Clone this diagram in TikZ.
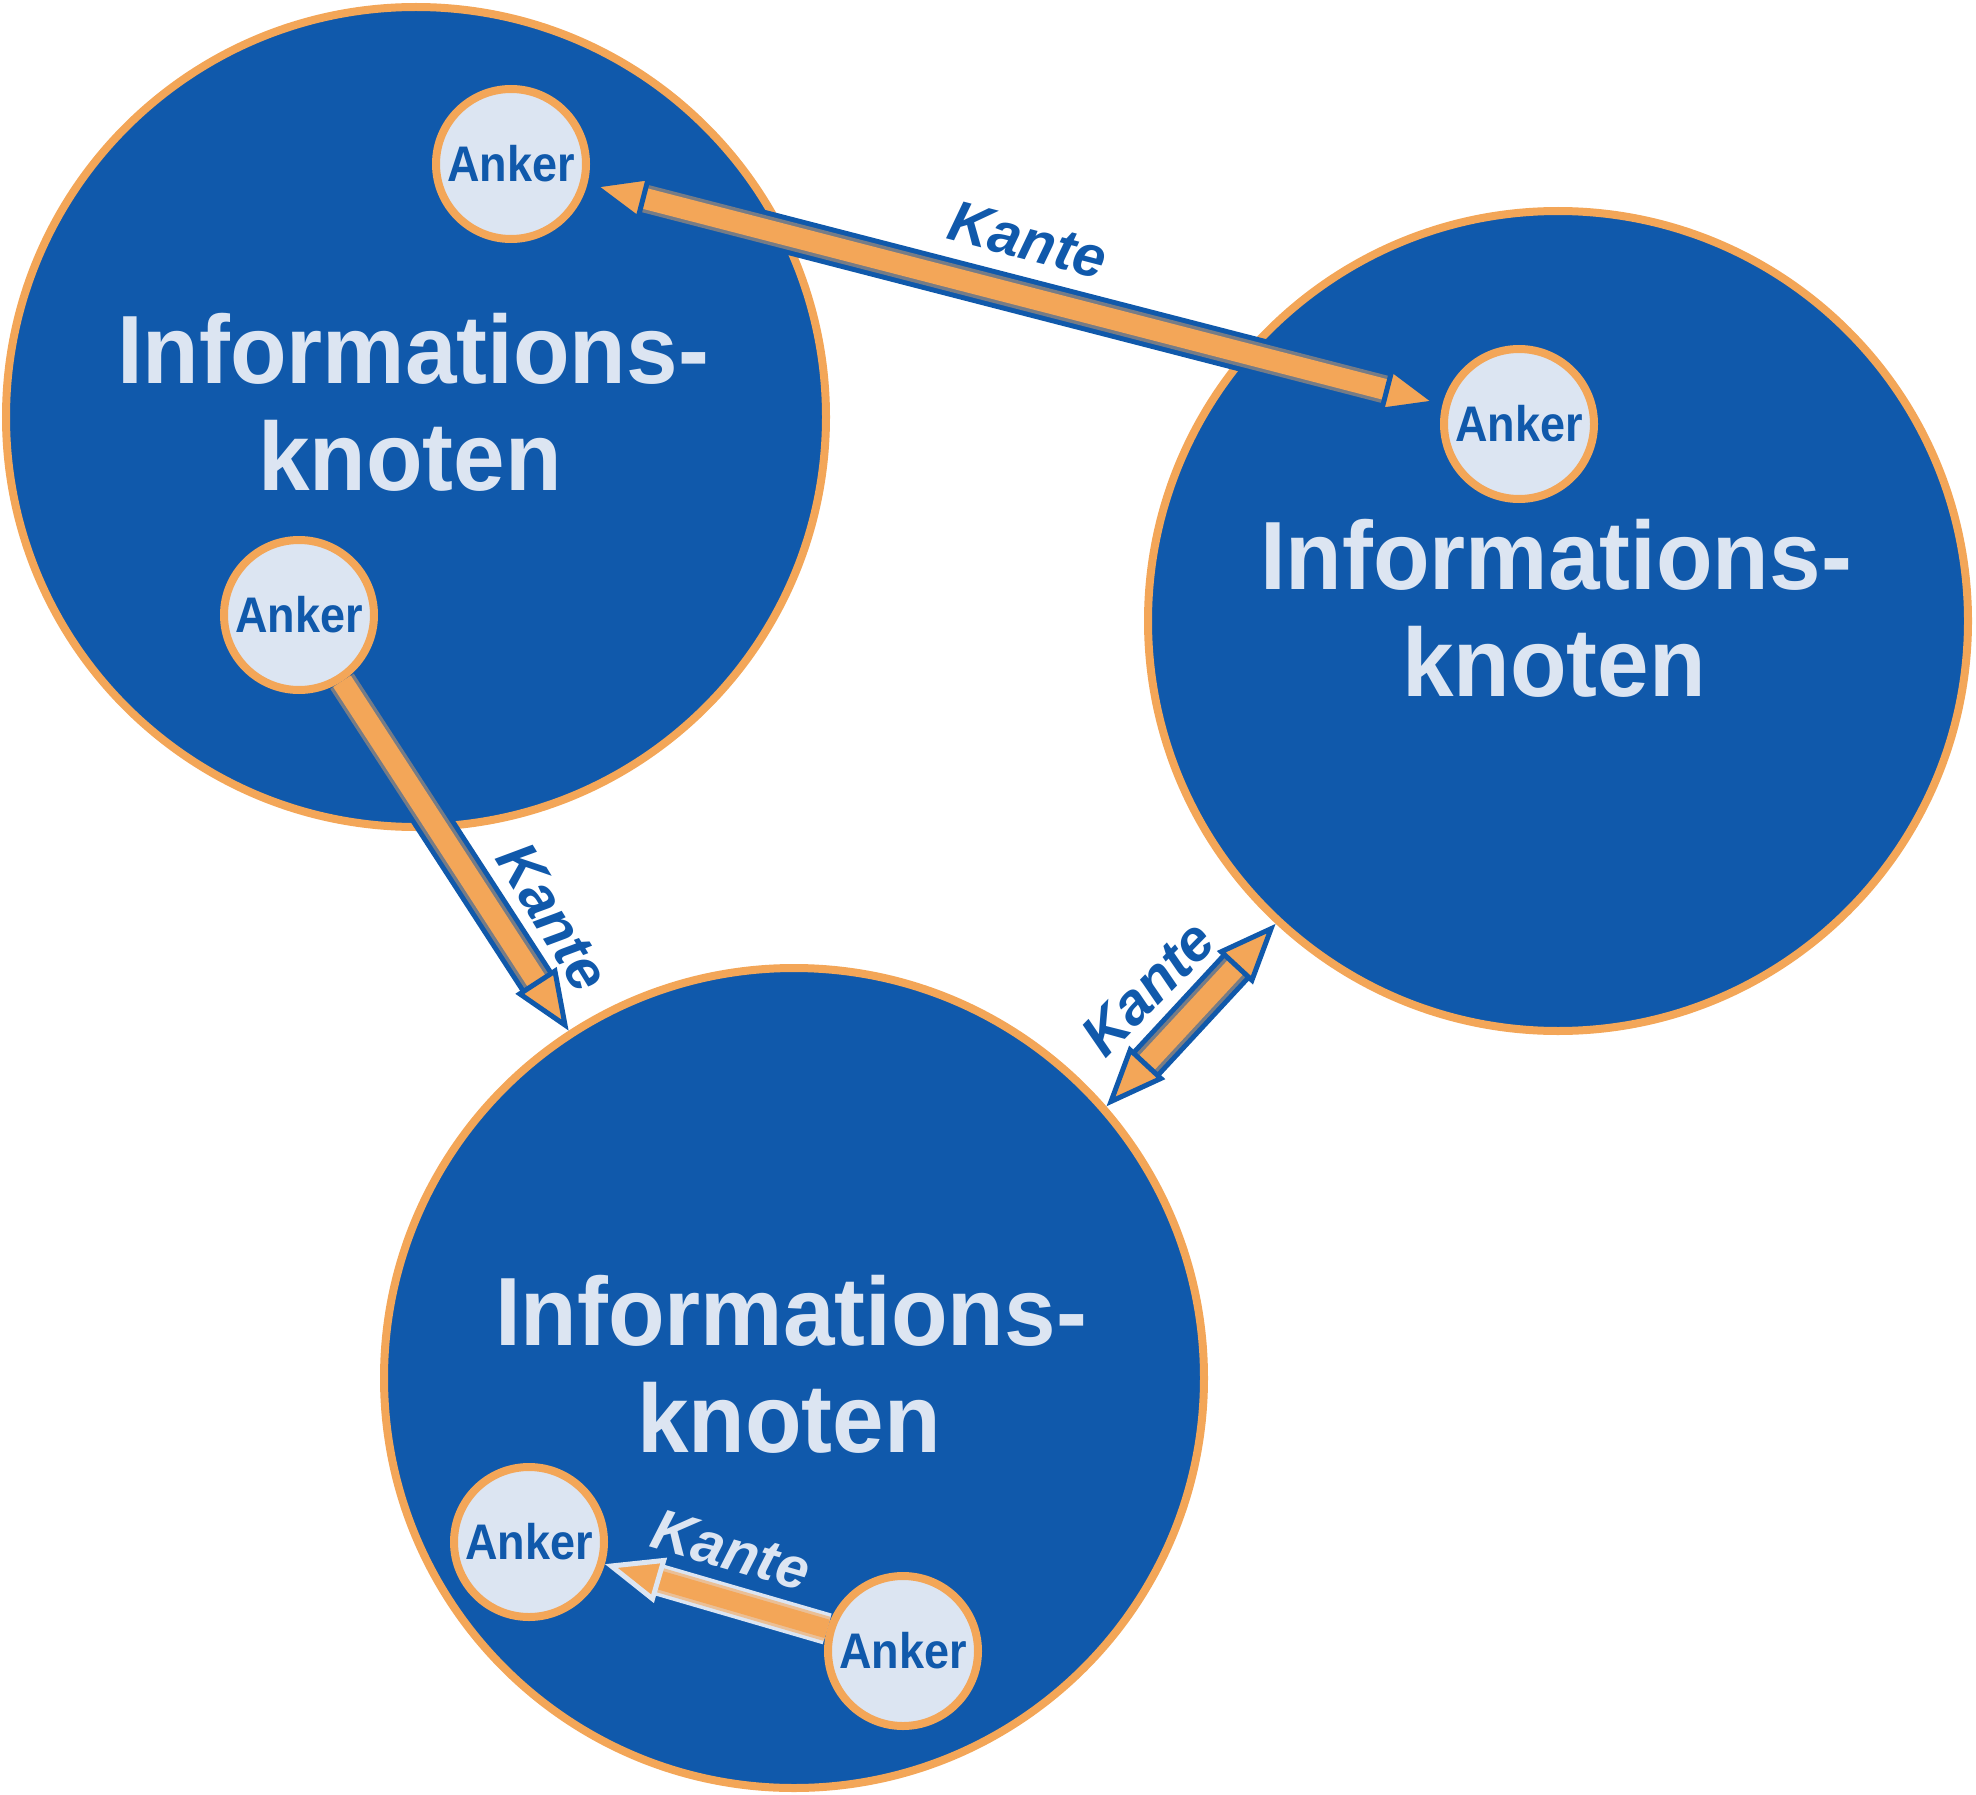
\documentclass[tikz,border=0pt]{standalone}
\usepackage{fontspec}
\usetikzlibrary{arrows.meta}
\newfontfamily\bigf{Liberation Sans}[FakeStretch=0.955]
\newfontfamily\ankf{Liberation Sans}[FakeStretch=0.9]
\newfontfamily\kantf{Liberation Sans}
\definecolor{blu}{HTML}{1059AB}
\definecolor{orng}{HTML}{F3A658}
\definecolor{lite}{HTML}{DCE5F2}
\pgfdeclarelayer{bg}
\pgfdeclarelayer{arr}
\pgfsetlayers{bg,arr,main}
\tikzset{
  infokreis/.style={circle, fill=blu, draw=orng, line width=8pt, minimum size=820pt, inner sep=0pt},
  anker/.style={circle, fill=lite, draw=orng, line width=8pt, minimum size=150pt, inner sep=0pt,
     text=blu, font=\ankf\bfseries\fontsize{50}{50}\selectfont},
  infotext/.style={anchor=base, inner sep=0pt, text=lite, font=\bigf\bfseries\fontsize{97}{107}\selectfont},
  kantetext/.style={inner sep=0pt, font=\kantf\bfseries\itshape\fontsize{58}{58}\selectfont},
  rand/.style={line width=38pt, draw=blu},
  randhell/.style={line width=32pt, draw=lite},
  mitte/.style={line width=28pt, draw=orng!45!blu},
  mittehell/.style={line width=25pt, draw=orng!60!lite},
  kern/.style={line width=21pt, draw=orng},
  kernhell/.style={line width=19pt, draw=orng},
  kopf/.tip={Triangle[length=60pt, width=48pt, line width=5pt, fill=orng, color=blu]},
  kopfhell/.tip={Triangle[length=58pt, width=46pt, line width=5pt, fill=orng, color=lite]},
}
\begin{document}
\begin{tikzpicture}[x=1pt, y=-1pt]
\useasboundingbox (0,0) rectangle (1976,1795);
% big circles
\begin{pgfonlayer}{bg}
\node[infokreis] (C1) at (416,417) {};
\node[infokreis] (C2) at (1558,621) {};
\node[infokreis] (C3) at (794,1378) {};
\end{pgfonlayer}
% texts in big circles
\node[infotext] (T1a) at (413,383) {Informations-};
\node[infotext] (T1b) at (410,490) {knoten};
\node[infotext] (T2a) at (1556,589) {Informations-};
\node[infotext] (T2b) at (1554,696) {knoten};
\node[infotext] (T3a) at (791,1345) {Informations-};
\node[infotext] (T3b) at (789,1452) {knoten};
% anchors
\node[anker] (A1) at (511,164) {Anker};
\node[anker] (A2) at (1519,424) {Anker};
\node[anker] (A3) at (299,615) {Anker};
\node[anker] (A4) at (529,1542) {Anker};
\node[anker] (A5) at (903,1651) {Anker};
% edges
\begin{pgfonlayer}{arr}
\draw[rand, shorten <=48pt, shorten >=48pt] (A1) -- (A2);
\draw[mitte, shorten <=48pt, shorten >=48pt] (A1) -- (A2);
\draw[kern, kopf-kopf] (A1) -- (A2);

\draw[rand, shorten >=48pt] (A3) -- (C3);
\draw[mitte, shorten >=48pt] (A3) -- (C3);
\draw[kern, -kopf] (A3) -- (C3);

\draw[rand, shorten <=48pt, shorten >=48pt] (C3.41.5) -- (C2.227.5);
\draw[mitte, shorten <=48pt, shorten >=48pt] (C3.41.5) -- (C2.227.5);
\draw[kern, kopf-kopf] (C3.41.5) -- (C2.227.5);

\draw[randhell, shorten >=46pt] (A5) -- (A4);
\draw[mittehell, shorten >=46pt] (A5) -- (A4);
\draw[kernhell, -kopfhell] (A5) -- (A4);
\end{pgfonlayer}
% edge labels
\node[kantetext, text=blu, rotate=-14.5] (K1) at (1028,240) {Kante};
\node[kantetext, text=blu, rotate=-58.5] (K2) at (553,917) {Kante};
\node[kantetext, text=blu, rotate=45.5] (K3) at (1148,988) {Kante};
\node[kantetext, text=lite, rotate=-16] (K4) at (731,1550) {Kante};
\end{tikzpicture}
\end{document}
